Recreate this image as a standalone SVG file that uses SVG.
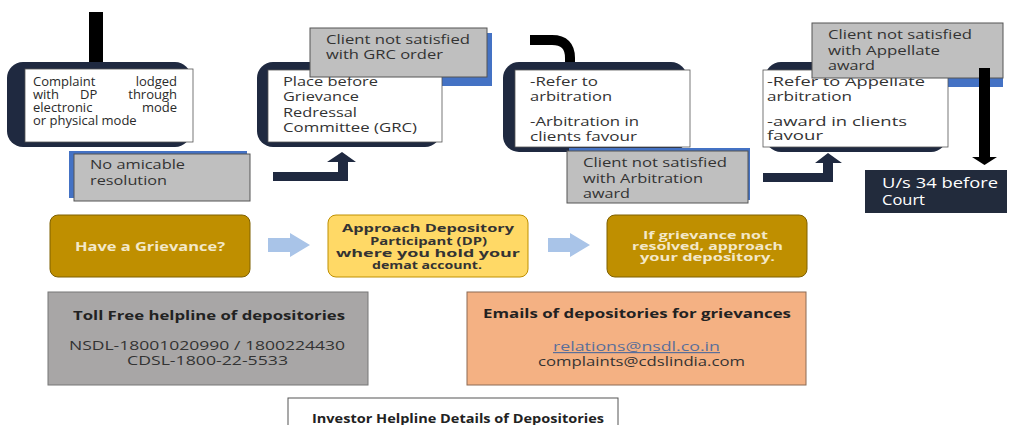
<svg xmlns="http://www.w3.org/2000/svg" width="1009" height="425" viewBox="0 0 1009 425">
<style>
.frame{fill:#1f2940}
.white{fill:#ffffff;stroke:#555;stroke-width:0.8}
.gray{fill:#bfbfbf;stroke:#555;stroke-width:1}
.blue{fill:#4472c4}
.t{font-family:"Open Sans","Liberation Sans",sans-serif;font-size:12.5px;fill:#333}
.t13{font-size:13px;fill:#2a2a2a}
.end{text-anchor:end}
.tb{font-family:"Open Sans","Liberation Sans",sans-serif;font-size:10px;font-weight:bold}
.gold{fill:#bf8f00;stroke:#7f6000;stroke-width:1}
.yel{fill:#ffd966;stroke:#bf9000;stroke-width:1}
.lt{fill:#f3e8c8}
.dk{fill:#333}
.lb{fill:#a9c4e8}
</style>
<rect width="1009" height="425" fill="#ffffff"/>
<g id="connectors">
<rect x="89" y="12" width="14" height="56" fill="#000"/>
<polygon points="81,67 111,67 96,80" fill="#000"/>
<polygon points="273,172 338,172 338,162 327,162 342,152 356,162 348,162 348,181 273,181" fill="#1f2940"/>
<path d="M530,40 H552 Q570,40 570,58 V69" fill="none" stroke="#000" stroke-width="10"/>
<polygon points="558,68 585,68 571,82" fill="#000"/>
<polygon points="763,173 823,173 823,163 815,163 828,153 842,163 833,163 833,182 763,182" fill="#1f2940"/>
<polygon points="268,238 290,238 290,233 310,245 290,257 290,252 268,252" class="lb"/>
<polygon points="548,238 570,238 570,233 590,245 570,257 570,252 548,252" class="lb"/>
</g>
<g id="box1">
<rect x="7" y="62" width="184" height="85" rx="16" class="frame"/>
<rect x="25" y="69" width="168" height="73" class="white"/>
<text class="t t13" x="33" y="86">Complaint</text>
<text class="t t13 end" x="177" y="86">lodged</text>
<text class="t t13" x="33" y="99">with</text>
<text class="t t13" x="80" y="99">DP</text>
<text class="t t13 end" x="177" y="99">through</text>
<text class="t t13" x="33" y="112">electronic</text>
<text class="t t13 end" x="177" y="112">mode</text>
<text class="t t13" x="33" y="125">or physical mode</text>
</g>
<g id="noamicable">
<rect x="69" y="151" width="178" height="47" class="blue"/>
<rect x="74" y="154" width="176" height="47" class="gray"/>
<text class="t" x="90" y="169" textLength="95" lengthAdjust="spacingAndGlyphs">No amicable</text>
<text class="t" x="90" y="185" textLength="77" lengthAdjust="spacingAndGlyphs">resolution</text>
</g>
<g id="box2">
<rect x="257" y="62" width="184" height="85" rx="16" class="frame"/>
<rect x="315" y="33" width="177" height="53" class="blue"/>
<rect x="268" y="70" width="174" height="72" class="white"/>
<text class="t" x="283" y="86" textLength="95" lengthAdjust="spacingAndGlyphs">Place before</text>
<text class="t" x="283" y="101" textLength="76" lengthAdjust="spacingAndGlyphs">Grievance</text>
<text class="t" x="283" y="117" textLength="74" lengthAdjust="spacingAndGlyphs">Redressal</text>
<text class="t" x="283" y="132" textLength="134" lengthAdjust="spacingAndGlyphs">Committee (GRC)</text>
</g>
<g id="grc">
<rect x="310" y="28" width="177" height="49" class="gray"/>
<text class="t" x="326" y="44" textLength="144" lengthAdjust="spacingAndGlyphs">Client not satisfied</text>
<text class="t" x="326" y="59" textLength="117" lengthAdjust="spacingAndGlyphs">with GRC order</text>
</g>
<g id="box3">
<rect x="503" y="62" width="184" height="90" rx="16" class="frame"/>
<rect x="515" y="70" width="175" height="77" class="white"/>
<text class="t" x="530" y="86" textLength="68" lengthAdjust="spacingAndGlyphs">-Refer to</text>
<text class="t" x="530" y="101" textLength="82" lengthAdjust="spacingAndGlyphs">arbitration</text>
<text class="t" x="530" y="126" textLength="109" lengthAdjust="spacingAndGlyphs">-Arbitration in</text>
<text class="t" x="530" y="141" textLength="107" lengthAdjust="spacingAndGlyphs">clients favour</text>
</g>
<g id="arbaward">
<rect x="569" y="148" width="181" height="52" class="blue"/>
<rect x="567" y="151" width="181" height="52" class="gray"/>
<text class="t" x="583" y="167" textLength="144" lengthAdjust="spacingAndGlyphs">Client not satisfied</text>
<text class="t" x="583" y="183" textLength="120" lengthAdjust="spacingAndGlyphs">with Arbitration</text>
<text class="t" x="583" y="198" textLength="47" lengthAdjust="spacingAndGlyphs">award</text>
</g>
<g id="box4">
<rect x="765" y="62" width="182" height="90" rx="16" class="frame"/>
<rect x="816" y="30" width="187" height="57" class="blue"/>
<rect x="763" y="70" width="185" height="77" class="white"/>
<text class="t" x="767" y="86" textLength="158" lengthAdjust="spacingAndGlyphs">-Refer to Appellate</text>
<text class="t" x="767" y="101" textLength="85" lengthAdjust="spacingAndGlyphs">arbitration</text>
<text class="t" x="767" y="126" textLength="140" lengthAdjust="spacingAndGlyphs">-award in clients</text>
<text class="t" x="767" y="140" textLength="56" lengthAdjust="spacingAndGlyphs">favour</text>
</g>
<g id="appaward">
<rect x="812" y="23" width="191" height="55" class="gray"/>
<text class="t" x="828" y="39" textLength="144" lengthAdjust="spacingAndGlyphs">Client not satisfied</text>
<text class="t" x="828" y="55" textLength="112" lengthAdjust="spacingAndGlyphs">with Appellate</text>
<text class="t" x="828" y="70" textLength="47" lengthAdjust="spacingAndGlyphs">award</text>
</g>
<g id="arrow4">
<rect x="979" y="68" width="11" height="90" fill="#000"/>
<polygon points="972,157 997,157 984.5,165" fill="#000"/>
</g>
<g id="court">
<rect x="865" y="170" width="142" height="43" fill="#222b3c"/>
<text class="t" style="font-size:15px;fill:#fff" x="882" y="188" textLength="116" lengthAdjust="spacingAndGlyphs">U/s 34 before</text>
<text class="t" style="font-size:15px;fill:#fff" x="882" y="205" textLength="43" lengthAdjust="spacingAndGlyphs">Court</text>
</g>
<g id="grievance">
<rect x="50" y="215" width="200" height="62" rx="8" class="gold"/>
<text class="tb lt" style="font-size:11.5px" x="75" y="251" textLength="150" lengthAdjust="spacingAndGlyphs">Have a Grievance?</text>
</g>
<g id="approach">
<rect x="328" y="215" width="200" height="62" rx="8" class="yel"/>
<text class="tb dk" x="342" y="232" textLength="172" lengthAdjust="spacingAndGlyphs">Approach Depository</text>
<text class="tb dk" x="370" y="245" textLength="117" lengthAdjust="spacingAndGlyphs">Participant (DP)</text>
<text class="tb dk" x="336" y="257" textLength="184" lengthAdjust="spacingAndGlyphs">where you hold your</text>
<text class="tb dk" x="372" y="269" textLength="110" lengthAdjust="spacingAndGlyphs">demat account.</text>
</g>
<g id="depository">
<rect x="607" y="215" width="200" height="62" rx="8" class="gold"/>
<text class="tb lt" x="643" y="239" textLength="125" lengthAdjust="spacingAndGlyphs">If grievance not</text>
<text class="tb lt" x="632" y="250" textLength="151" lengthAdjust="spacingAndGlyphs">resolved, approach</text>
<text class="tb lt" x="640" y="261" textLength="135" lengthAdjust="spacingAndGlyphs">your depository.</text>
</g>
<g id="tollfree">
<rect x="48" y="292" width="320" height="93" fill="#a8a6a6" stroke="#777" stroke-width="1"/>
<text class="tb" style="font-size:11.5px;fill:#222" x="73" y="320" textLength="272" lengthAdjust="spacingAndGlyphs">Toll Free helpline of depositories</text>
<text class="t" style="font-size:12px" x="69" y="350" textLength="276" lengthAdjust="spacingAndGlyphs">NSDL-18001020990 / 1800224430</text>
<text class="t" style="font-size:12px" x="127" y="365" textLength="161" lengthAdjust="spacingAndGlyphs">CDSL-1800-22-5533</text>
</g>
<g id="emails">
<rect x="467" y="292" width="339" height="93" fill="#f4b183" stroke="#8c6b55" stroke-width="1"/>
<text class="tb" style="font-size:11.5px;fill:#222" x="483" y="318" textLength="308" lengthAdjust="spacingAndGlyphs">Emails of depositories  for grievances</text>
<text class="t" style="font-size:12px;fill:#5a6f9a;text-decoration:underline" x="553" y="351" textLength="167" lengthAdjust="spacingAndGlyphs">relations@nsdl.co.in</text>
<text class="t" style="font-size:12px" x="538" y="366" textLength="207" lengthAdjust="spacingAndGlyphs">complaints@cdslindia.com</text>
</g>
<g id="helpline">
<rect x="288" y="398" width="330" height="40" fill="#fff" stroke="#555" stroke-width="1"/>
<text class="tb" style="font-size:11.5px;fill:#222" x="312" y="423" textLength="292" lengthAdjust="spacingAndGlyphs">Investor Helpline Details of Depositories</text>
</g>
</svg>
